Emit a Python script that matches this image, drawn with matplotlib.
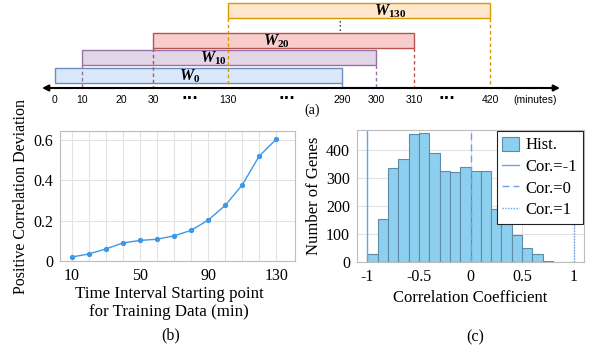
#!/usr/bin/env python3
# -*- coding: utf-8 -*-

import matplotlib
matplotlib.use('Agg')
import matplotlib.pyplot as plt
import numpy as np

# ---- data ----
# (a) training windows, in minutes
window_names = ["0", "10", "20", "130"]
window_start = [0, 10, 30, 130]
window_end = [290, 300, 310, 420]
axis_labels = ["0", "10", "20", "30", "···", "130", "···", "290", "300", "310", "···", "420"]

# (b) deviation vs. start of training interval
start_minutes = [10, 20, 30, 40, 50, 60, 70, 80, 90, 100, 110, 120, 130]
pos_deviation = [0.02, 0.035, 0.06, 0.09, 0.102, 0.108, 0.125, 0.152, 0.203,
                 0.276, 0.377, 0.521, 0.604]

# (c) histogram of correlation coefficients
bin_edges = np.round(np.arange(-1.0, 1.01, 0.1), 2)
gene_counts = [28, 152, 335, 367, 457, 460, 388, 325, 322, 340,
               325, 325, 190, 158, 95, 50, 28, 5, 1, 1]

W_px, H_px = 589, 347
plt.rcParams['mathtext.fontset'] = 'custom'
plt.rcParams['mathtext.it'] = 'Liberation Serif:italic:bold'
plt.rcParams['mathtext.rm'] = 'Liberation Serif:bold'

fig = plt.figure(figsize=(W_px / 100, H_px / 100), dpi=100)

# ---------------- (a) ----------------
# schematic positions of the labelled points along the time axis
label_x = [55, 82, 121, 153, 190, 228, 287, 342, 376, 414, 447, 490]
minute_x = {int(l): x for l, x in zip(axis_labels, label_x) if l != "···"}
fills = ["#dae8fc", "#e1d5e7", "#f8cecc", "#ffe6cc"]
edges = ["#6c8ebf", "#9673a6", "#b85450", "#d79b00"]
rows_y = [75, 57, 40.5, 10]
bar_h = 15
axis_y = 88

ax_a = fig.add_axes([0, 0, 1, 1])
ax_a.set_xlim(0, W_px)
ax_a.set_ylim(H_px, 0)
ax_a.axis('off')

for name, s, e, fc, ec, y in zip(window_names, window_start, window_end,
                                 fills, edges, rows_y):
    x0, x1 = minute_x[s], minute_x[e]
    ax_a.barh(y, x1 - x0, left=x0, height=bar_h, color=fc,
              edgecolor=ec, linewidth=1.0)
    if s > 0:
        ax_a.plot([x0, x0], [y + bar_h / 2, axis_y], ls=(0, (2.5, 2)),
                  color=ec, lw=1.0)
    ax_a.plot([x1, x1], [y + bar_h / 2, axis_y], ls=(0, (2.5, 2)),
              color=ec, lw=1.0)
    lx = {"0": 190, "10": 213, "20": 276, "130": 390}[name]
    ax_a.text(lx, y + 1, r"$W_{%s}$" % name, ha='center', va='center',
              fontsize=11.5)

ax_a.text(340, 26, "⋮", ha='center', va='center', fontsize=9, color='#333333')
ax_a.annotate("", xy=(42, axis_y), xytext=(560, axis_y),
              arrowprops=dict(arrowstyle='<|-|>', color='black', lw=1.5,
                              mutation_scale=9, shrinkA=0, shrinkB=0))
for lab, x in zip(axis_labels, label_x):
    if lab == "···":
        ax_a.text(x, 98, lab, ha='center', va='center', fontsize=11,
                  family='DejaVu Sans', weight='bold')
    else:
        ax_a.text(x, 100, lab, ha='center', va='center', fontsize=7.5,
                  family='Liberation Sans')
ax_a.text(535, 100, "(minutes)", ha='center', va='center', fontsize=7.5,
          family='Liberation Sans')
ax_a.text(312, 110, "(a)", ha='center', va='center', fontsize=10,
          family='Liberation Serif')

serif = 'Liberation Serif'
grid_c = '#e3e3e3'
spine_c = '#bdbdbd'

# ---------------- (b) ----------------
ax_b = fig.add_axes([60 / W_px, 1 - 261 / H_px, 235 / W_px, 130 / H_px])
ax_b.plot(start_minutes, pos_deviation, color='#3d98e6', lw=1.0,
          marker='o', markersize=2.8)
ax_b.set_xlim(3, 141)
ax_b.set_ylim(0, 0.645)
ax_b.set_xticks([10, 50, 90, 130])
ax_b.set_xticks(start_minutes, minor=True)
ax_b.set_yticks([0, 0.2, 0.4, 0.6])
ax_b.set_yticklabels(["0", "0.2", "0.4", "0.6"])
ax_b.grid(True, which='both', color=grid_c, lw=0.8)
ax_b.set_axisbelow(True)
ax_b.set_xlabel("Time Interval Starting point\nfor Training Data (min)",
                family=serif, fontsize=12.2, linespacing=1.2)
ax_b.xaxis.set_label_coords(0.465, -0.19, transform=ax_b.transAxes)
ax_b.xaxis.label.set_va('top')
ax_b.set_ylabel("Positive Correlation Deviation", family=serif,
                fontsize=11.5, labelpad=3)

# ---------------- (c) ----------------
ax_c = fig.add_axes([357 / W_px, 1 - 262 / H_px, 227 / W_px, 132 / H_px])
hist = ax_c.bar(bin_edges[:-1], gene_counts, width=0.1, align='edge',
                color='#8ccfee', edgecolor='#5f8ba6', linewidth=0.8,
                label='Hist.')
line_c = '#6aa2ea'
l1 = ax_c.axvline(-1, color=line_c, lw=1.0, ls='-', label='Cor.=-1')
l2 = ax_c.axvline(0, color=line_c, lw=1.0, ls=(0, (5, 3)), label='Cor.=0')
l3 = ax_c.axvline(1, color=line_c, lw=1.0, ls=(0, (1, 1)), label='Cor.=1')
ax_c.set_xlim(-1.1, 1.1)
ax_c.set_ylim(0, 470)
ax_c.set_xticks([-1, -0.5, 0, 0.5, 1])
ax_c.set_xticklabels(["-1", "-0.5", "0", "0.5", "1"])
ax_c.set_yticks([0, 100, 200, 300, 400])
ax_c.grid(True, color=grid_c, lw=0.8)
ax_c.set_axisbelow(True)
ax_c.set_xlabel("Correlation Coefficient", family=serif, fontsize=12,
                labelpad=4)
ax_c.set_ylabel("Number of Genes", family=serif, fontsize=12, labelpad=3)
leg = ax_c.legend(handles=[hist, l1, l2, l3], loc='upper right',
                  prop=dict(family=serif, size=12),
                  fancybox=False, edgecolor='#222222', framealpha=1,
                  borderaxespad=0.05, handlelength=1.0, handletextpad=0.4,
                  borderpad=0.35, labelspacing=0.3, handleheight=0.9)
leg.get_frame().set_linewidth(0.8)

for ax in (ax_b, ax_c):
    for sp in ax.spines.values():
        sp.set_color(spine_c)
        sp.set_linewidth(0.8)
    ax.tick_params(which='both', length=0, pad=5, labelsize=11.5)
    for t in ax.get_xticklabels() + ax.get_yticklabels():
        t.set_family(serif)

fig.text(171 / W_px, 1 - 335 / H_px, "(b)", ha='center', va='center',
         family=serif, fontsize=11.5)
fig.text(475 / W_px, 1 - 337 / H_px, "(c)", ha='center', va='center',
         family=serif, fontsize=11.5)

fig.savefig("out.png", dpi=100)
